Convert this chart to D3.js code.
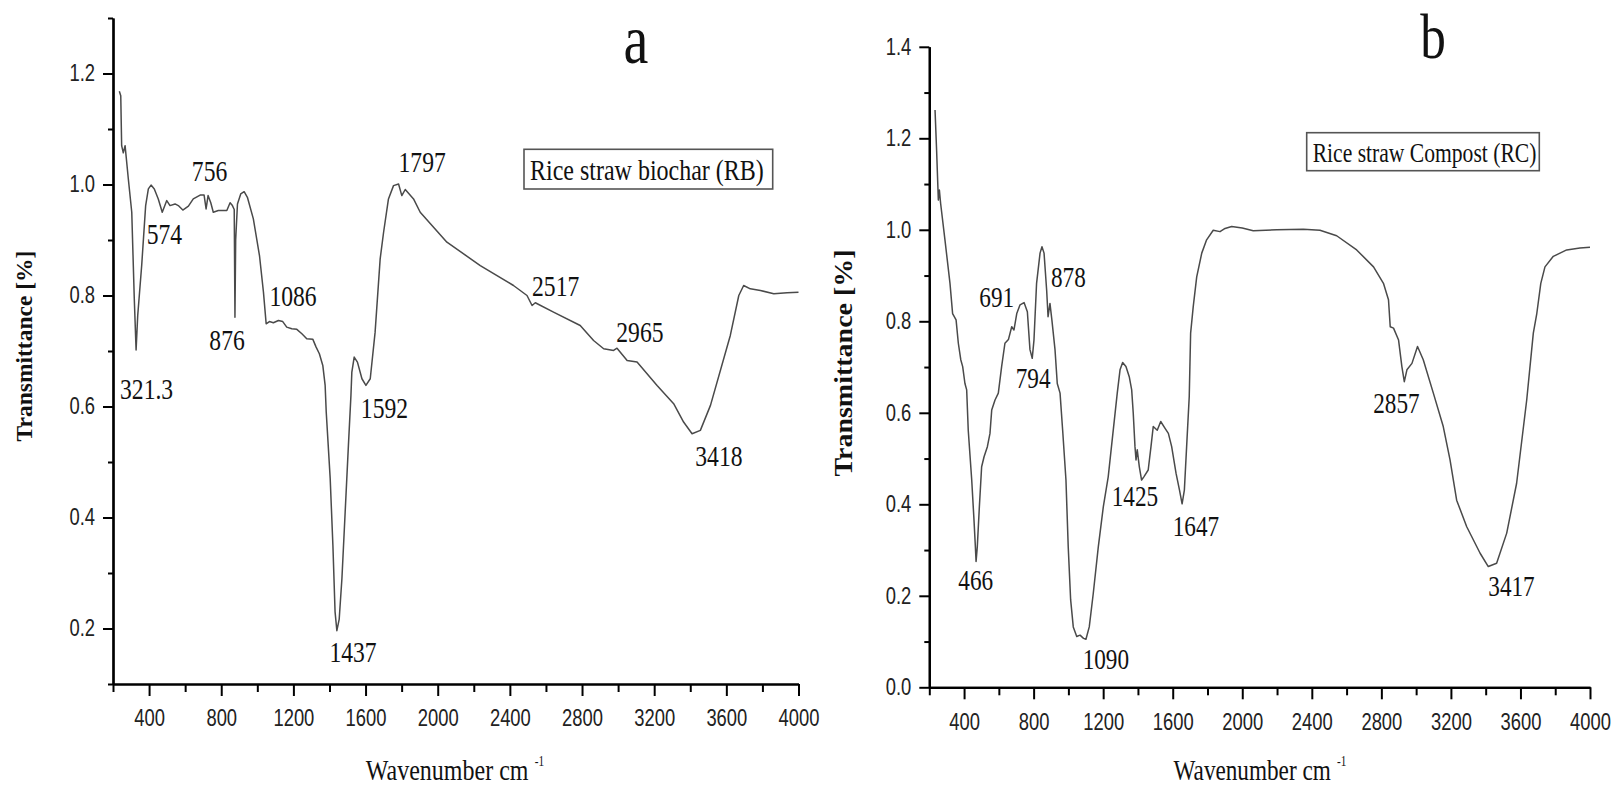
<!DOCTYPE html>
<html><head><meta charset="utf-8">
<script src="https://cdn.jsdelivr.net/npm/d3@7"></script>
<style>body{margin:0;background:#fff}svg{display:block}</style>
</head><body>
<svg id="c" width="1616" height="790"></svg>
<script>
// ---------- DATA ----------
const xTickLabels = [400, 800, 1200, 1600, 2000, 2400, 2800, 3200, 3600, 4000];
const xMinorTicks = [200, 600, 1000, 1400, 1800, 2200, 2600, 3000, 3400, 3800];
const rbYTickLabels = [0.2, 0.4, 0.6, 0.8, 1.0, 1.2];
const rbYMinorTicks = [0.1, 0.3, 0.5, 0.7, 0.9, 1.1, 1.3];
const rcYTickLabels = [0.0, 0.2, 0.4, 0.6, 0.8, 1.0, 1.2, 1.4];
const rcYMinorTicks = [0.1, 0.3, 0.5, 0.7, 0.9, 1.1, 1.3];

// Rice straw biochar (RB): [wavenumber, transmittance]
const rbSpectrum = [
 [235,1.168],[243,1.160],[248,1.070],[257,1.057],[267,1.070],[285,1.010],[304,0.950],[318,0.794],
 [328,0.702],[337,0.764],[359,0.854],[381,0.962],[396,0.992],[411,0.999],[429,0.992],[451,0.974],
 [473,0.950],[498,0.971],[516,0.962],[544,0.965],[562,0.962],[587,0.954],[618,0.961],[645,0.974],
 [683,0.981],[705,0.981],[716,0.956],[727,0.980],[742,0.967],[756,0.950],[784,0.953],[831,0.953],
 [849,0.967],[862,0.962],[872,0.955],[876,0.761],[880,0.900],[890,0.965],[908,0.983],[927,0.987],
 [945,0.977],[978,0.938],[1012,0.872],[1034,0.806],[1049,0.749],[1067,0.753],[1089,0.751],[1117,0.755],
 [1141,0.753],[1163,0.743],[1191,0.740],[1219,0.739],[1247,0.731],[1274,0.722],[1308,0.721],[1326,0.707],
 [1344,0.695],[1363,0.674],[1376,0.638],[1382,0.590],[1404,0.470],[1419,0.350],[1431,0.230],[1441,0.196],
 [1454,0.217],[1469,0.290],[1487,0.410],[1505,0.530],[1519,0.620],[1524,0.662],[1537,0.689],[1555,0.680],
 [1580,0.650],[1602,0.638],[1626,0.650],[1653,0.734],[1681,0.866],[1700,0.914],[1727,0.974],[1755,0.998],
 [1783,1.001],[1801,0.980],[1820,0.991],[1866,0.974],[1903,0.950],[2051,0.896],[2236,0.854],[2420,0.818],
 [2495,0.800],[2523,0.782],[2541,0.787],[2642,0.770],[2790,0.746],[2864,0.719],[2920,0.704],[2975,0.701],
 [2994,0.705],[3050,0.683],[3105,0.680],[3216,0.638],[3308,0.605],[3363,0.572],[3410,0.551],[3456,0.557],
 [3512,0.602],[3622,0.728],[3669,0.800],[3696,0.818],[3733,0.812],[3789,0.809],[3863,0.803],[3937,0.805],
 [4000,0.806]
];

// Rice straw Compost (RC): [wavenumber, transmittance]
const rcSpectrum = [
 [233,1.262],[242,1.174],[252,1.065],[258,1.087],[265,1.058],[290,0.978],[319,0.883],[334,0.817],
 [354,0.803],[367,0.752],[381,0.716],[392,0.701],[405,0.664],[415,0.650],[424,0.562],[444,0.453],
 [457,0.366],[465,0.307],[469,0.275],[476,0.307],[488,0.395],[501,0.482],[515,0.504],[534,0.526],
 [549,0.555],[559,0.606],[578,0.628],[597,0.643],[616,0.701],[635,0.752],[655,0.760],[674,0.788],
 [687,0.781],[703,0.817],[722,0.836],[745,0.841],[764,0.821],[779,0.738],[792,0.719],[802,0.759],
 [817,0.883],[837,0.949],[848,0.963],[860,0.949],[875,0.868],[883,0.810],[894,0.839],[905,0.803],
 [923,0.738],[936,0.664],[952,0.643],[967,0.562],[986,0.453],[999,0.307],[1013,0.191],[1028,0.132],
 [1048,0.111],[1067,0.114],[1087,0.107],[1101,0.105],[1120,0.132],[1143,0.205],[1172,0.307],[1201,0.395],
 [1229,0.460],[1258,0.562],[1281,0.643],[1297,0.694],[1312,0.710],[1331,0.701],[1350,0.679],[1364,0.650],
 [1373,0.599],[1383,0.526],[1389,0.497],[1396,0.519],[1408,0.482],[1421,0.453],[1434,0.460],[1459,0.475],
 [1475,0.526],[1488,0.570],[1511,0.562],[1531,0.581],[1556,0.566],[1575,0.555],[1594,0.526],[1619,0.468],
 [1639,0.431],[1654,0.401],[1667,0.431],[1680,0.526],[1695,0.635],[1703,0.774],[1718,0.832],[1738,0.897],
 [1767,0.949],[1795,0.978],[1833,0.999],[1872,0.996],[1901,1.003],[1939,1.007],[2000,1.004],[2063,0.998],
 [2198,1.000],[2351,1.001],[2447,0.999],[2543,0.987],[2658,0.956],[2755,0.919],[2812,0.883],[2841,0.847],
 [2851,0.788],[2870,0.785],[2899,0.759],[2918,0.701],[2932,0.668],[2947,0.694],[2976,0.708],[3008,0.745],
 [3041,0.716],[3099,0.643],[3156,0.570],[3195,0.497],[3233,0.409],[3291,0.351],[3368,0.293],[3415,0.264],
 [3463,0.271],[3521,0.337],[3578,0.446],[3636,0.628],[3674,0.774],[3694,0.817],[3717,0.883],[3741,0.919],
 [3789,0.942],[3866,0.956],[3942,0.960],[4000,0.962]
];

// peak annotations: label, anchor in data units (text start / baseline)
const rbPeaks = [
 ["321.3",239,0.614],["574",387,0.893],["756",637,1.007],["876",734,0.701],["1086",1067,0.781],
 ["1437",1400,0.139],["1592",1574,0.579],["1797",1783,1.023],["2517",2523,0.800],["2965",2990,0.717],
 ["3418",3428,0.492]
];
const rcPeaks = [
 ["691",488,0.832],["878",900,0.876],["794",697,0.654],["466",367,0.213],["1090",1082,0.039],
 ["1425",1249,0.396],["1647",1600,0.331],["2857",2753,0.599],["3417",3415,0.200]
];

// ---------- DRAW ----------
const svg = d3.select("#c");
const SX = 0.8; // horizontal squeeze of the original figure's text
const serif = "'Liberation Serif','Times New Roman',serif";
const sans = "'Liberation Sans',Arial,sans-serif";

function sText(parent, x, y, str, size, anchor, opt) {
  opt = opt || {};
  const g = parent.append("g").attr("transform", `translate(${x},${y}) scale(${opt.sx || SX},1)`);
  return g.append("text").attr("text-anchor", anchor || "start")
    .attr("font-family", opt.family || serif).attr("font-size", size)
    .attr("font-weight", opt.weight || "normal").attr("fill", "#111").text(str);
}

const panels = [
  { spectrum: rbSpectrum, peaks: rbPeaks, xr: [113, 798.5], yd: [0.1, 1.3], yr: [684, 18],
    yMajor: rbYTickLabels, yMinor: rbYMinorTicks, title: "a", titleX: 636, titleY: 63, titleSize: 70,
    legend: "Rice straw biochar (RB)", lgBox: [524, 149.3, 248.7, 39.7], lgText: [530, 180], lgSize: 30,
    xlabX: 455, xlabY: 780, xlabSize: 30, ylabX: 32, ylabY: 346, ylabSize: 23.5, ylabSq: 1, peakSize: 29.5 },
  { spectrum: rcSpectrum, peaks: rcPeaks, xr: [929.3, 1590], yd: [0, 1.4], yr: [687.3, 46.8],
    yMajor: rcYTickLabels, yMinor: rcYMinorTicks, title: "b", titleX: 1433, titleY: 58, titleSize: 64,
    legend: "Rice straw Compost (RC)", lgBox: [1306.7, 132.7, 232.6, 38], lgText: [1312.7, 161.7], lgSize: 27,
    xlabX: 1260, xlabY: 780, xlabSize: 29, ylabX: 852, ylabY: 363, ylabSize: 28, ylabSq: 0.88, peakSize: 29 }
];

panels.forEach(p => {
  const x = d3.scaleLinear().domain([200, 4000]).range(p.xr);
  const y = d3.scaleLinear().domain(p.yd).range(p.yr);
  const g = svg.append("g");

  // minor ticks
  const xMin = g.append("g").attr("transform", `translate(0,${p.yr[0]})`)
    .call(d3.axisBottom(x).tickValues(xMinorTicks).tickSize(8).tickSizeOuter(0).tickFormat(""));
  const yMin = g.append("g").attr("transform", `translate(${p.xr[0]},0)`)
    .call(d3.axisLeft(y).tickValues(p.yMinor).tickSize(5).tickSizeOuter(0).tickFormat(""));
  // major ticks
  const xAx = g.append("g").attr("transform", `translate(0,${p.yr[0]})`)
    .call(d3.axisBottom(x).tickValues(xTickLabels).tickSize(12).tickPadding(14).tickSizeOuter(0).tickFormat(d3.format("d")));
  const yAx = g.append("g").attr("transform", `translate(${p.xr[0]},0)`)
    .call(d3.axisLeft(y).tickValues(p.yMajor).tickSize(10).tickSizeOuter(0).tickFormat(d3.format(".1f")));

  [xMin, yMin, xAx, yAx].forEach(a => {
    a.selectAll("path.domain").attr("stroke", "#000").attr("stroke-width", 2.2);
    a.selectAll(".tick line").attr("stroke", "#000").attr("stroke-width", 2);
  });
  xAx.selectAll("text").attr("font-family", sans).attr("font-size", 23).attr("fill", "#222")
    .attr("transform", `scale(${SX},1)`);
  yAx.selectAll("text").attr("font-family", sans).attr("font-size", 23).attr("fill", "#222")
    .attr("x", -18 / SX).attr("transform", `scale(${SX},1)`);

  // spectrum
  const line = d3.line().x(d => x(d[0])).y(d => y(d[1]));
  g.append("path").datum(p.spectrum).attr("d", line)
    .attr("fill", "none").attr("stroke", "#4a4a4a").attr("stroke-width", 1.5).attr("stroke-linejoin", "round");

  // peak labels
  p.peaks.forEach(pk => sText(g, x(pk[1]), y(pk[2]), pk[0], p.peakSize, "start"));

  // panel title
  sText(g, p.titleX, p.titleY, p.title, p.titleSize, "middle", { sx: SX });

  // legend box
  g.append("rect").attr("x", p.lgBox[0]).attr("y", p.lgBox[1]).attr("width", p.lgBox[2]).attr("height", p.lgBox[3])
    .attr("fill", "none").attr("stroke", "#555").attr("stroke-width", 1.6);
  sText(g, p.lgText[0], p.lgText[1], p.legend, p.lgSize, "start");

  // x label
  const xl = sText(g, p.xlabX, p.xlabY, "Wavenumber cm", p.xlabSize, "middle");
  xl.append("tspan").attr("dx", 8).attr("dy", -14).attr("font-size", 14).text("-1");

  // y label (rotated)
  g.append("g").attr("transform", `translate(${p.ylabX},${p.ylabY}) rotate(-90) scale(1,${p.ylabSq})`)
    .append("text").attr("text-anchor", "middle").attr("font-family", serif).attr("font-weight", "bold")
    .attr("font-size", p.ylabSize).attr("fill", "#111").text("Transmittance [%]");
});
</script>
</body></html>
